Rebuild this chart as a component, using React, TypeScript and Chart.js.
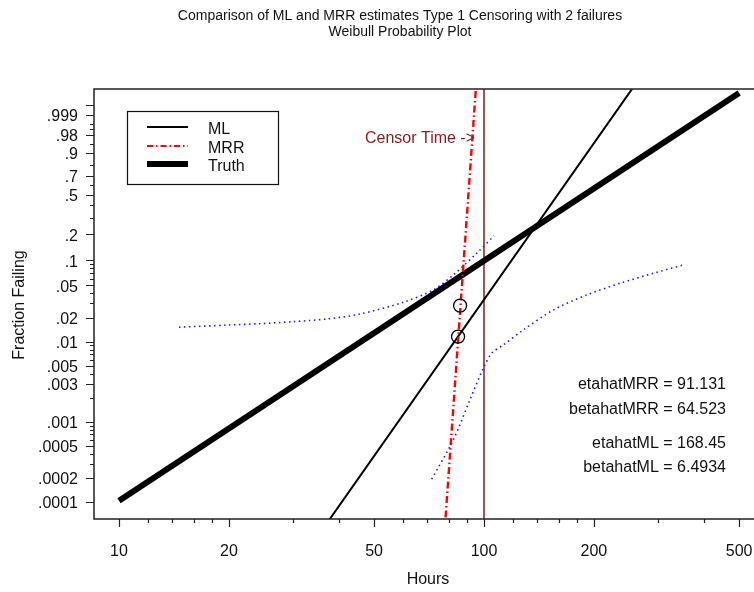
import React, { useEffect, useRef } from 'react';
import { Chart, registerables } from 'chart.js';

Chart.register(...registerables);

// Weibull fits (eta = scale, beta = shape)
const etaML = 168.45;
const betaML = 6.4934;
const etaMRR = 91.131;
const betaMRR = 64.523;
const etaTruth = 213;
const betaTruth = 3;
const censorTime = 100;

// hour spans over which each fitted line is drawn (clipped to the plot)
const mlSpan = [30, 300];
const mrrSpan = [75, 97];
const truthSpan = [10, 500];

// observed failures (hours, median-rank fraction failing)
const failureHours = [84.9, 86.0];
const failureFraction = [0.0116, 0.0281];

// pointwise confidence bounds
const upperBandHours = [14.6, 19.7, 24.3, 30.0, 37.1, 45.5, 60.1, 72.6, 82.4, 96.5, 106.5];
const upperBandFraction = [0.0152, 0.0161, 0.0168, 0.0178, 0.0192, 0.022, 0.0309, 0.0438, 0.0665, 0.126, 0.192];
const lowerBandHours = [71.9, 82.4, 91.5, 99.6, 105.0, 113.0, 128.2, 154.9, 191.2, 235.9, 290.9, 351.6];
const lowerBandFraction = [0.000193, 0.000597, 0.00189, 0.0047, 0.00723, 0.00916, 0.01406, 0.02483, 0.03798, 0.05284, 0.0697, 0.0877];

// axes
const hourMin = 8.541;
const hourMax = 549.2;
const hourTicks = [10, 20, 50, 100, 200, 500];
const hourMinorTicks = [12, 14, 16, 18, 30, 40, 60, 70, 80, 90, 120, 140, 160, 180, 300, 400];
const fractionTicks = [0.0001, 0.0002, 0.0005, 0.001, 0.003, 0.005, 0.01, 0.02, 0.05, 0.1, 0.2, 0.5, 0.7, 0.9, 0.98, 0.999];
const fractionTickLabels = ['.0001', '.0002', '.0005', '.001', '.003', '.005', '.01', '.02', '.05', '.1', '.2', '.5', '.7', '.9', '.98', '.999'];
const fractionMinorTicks = [
  0.0003, 0.0004, 0.0006, 0.0007, 0.0008, 0.0009,
  0.002, 0.004, 0.006, 0.007, 0.008, 0.009,
  0.03, 0.04, 0.06, 0.07, 0.08, 0.09,
  0.3, 0.4, 0.6, 0.8, 0.95, 0.99, 0.995,
];
const fractionExtraMajor = [0.9999];
const weibullMin = -9.7;
const weibullMax = 2.677;

// text
const titleLines = ['Comparison of ML and MRR estimates Type 1 Censoring with 2 failures', 'Weibull Probability Plot'];
const xTitle = 'Hours';
const yTitle = 'Fraction Failing';
const censorLabel = 'Censor Time ->';
const censorLabelAt = { hours: 94.5, fraction: 0.97 };
const statLines = [
  'etahatMRR = ' + etaMRR,
  'betahatMRR = ' + betaMRR,
  'etahatML = ' + etaML,
  'betahatML = ' + betaML,
];
const legendItems = ['ML', 'MRR', 'Truth'];

const FONT = '"Liberation Sans", Arial, Helvetica, sans-serif';
const CENSOR_COLOR = '#8b1a1a';

const weibullY = (f: number) => Math.log(-Math.log1p(-f));
const lineFrom = (eta: number, beta: number, span: number[]) =>
  span.map((t) => ({ x: t, y: beta * (Math.log(t) - Math.log(eta)) }));
const pairs = (xs: number[], fs: number[]) => xs.map((x, i) => ({ x, y: weibullY(fs[i]) }));

const decorations = {
  id: 'decorations',
  afterDatasetsDraw(chart: any) {
    const { ctx, chartArea: a, scales } = chart;
    const xs = scales.x;
    const ys = scales.y;
    ctx.save();

    // frame: left, top and bottom edges
    ctx.strokeStyle = '#222';
    ctx.lineWidth = 1.5;
    ctx.beginPath();
    ctx.moveTo(chart.width, a.top);
    ctx.lineTo(a.left, a.top);
    ctx.lineTo(a.left, a.bottom);
    ctx.lineTo(chart.width, a.bottom);
    ctx.stroke();

    // x ticks
    ctx.lineWidth = 1.2;
    ctx.beginPath();
    hourTicks.forEach((t) => {
      const px = Math.round(xs.getPixelForValue(t)) + 0.5;
      ctx.moveTo(px, a.bottom);
      ctx.lineTo(px, a.bottom + 8);
    });
    hourMinorTicks.forEach((t) => {
      const px = Math.round(xs.getPixelForValue(t)) + 0.5;
      ctx.moveTo(px, a.bottom);
      ctx.lineTo(px, a.bottom + 4);
    });
    // y ticks
    [...fractionTicks, ...fractionExtraMajor].forEach((f) => {
      const py = Math.round(ys.getPixelForValue(weibullY(f))) + 0.5;
      ctx.moveTo(a.left, py);
      ctx.lineTo(a.left - 8, py);
    });
    fractionMinorTicks.forEach((f) => {
      const py = Math.round(ys.getPixelForValue(weibullY(f))) + 0.5;
      ctx.moveTo(a.left, py);
      ctx.lineTo(a.left - 4, py);
    });
    ctx.stroke();

    ctx.fillStyle = '#111';
    ctx.font = '16px ' + FONT;
    ctx.textBaseline = 'middle';
    ctx.textAlign = 'center';
    hourTicks.forEach((t) => {
      ctx.fillText(String(t), xs.getPixelForValue(t), a.bottom + 33);
    });
    ctx.textAlign = 'right';
    fractionTicks.forEach((f, i) => {
      ctx.fillText(fractionTickLabels[i], a.left - 16, ys.getPixelForValue(weibullY(f)) + 2);
    });

    // axis titles
    ctx.textAlign = 'center';
    ctx.font = '16px ' + FONT;
    ctx.fillText(xTitle, 428, 580);
    ctx.save();
    ctx.translate(20, 305);
    ctx.rotate(-Math.PI / 2);
    ctx.fillText(yTitle, 0, 0);
    ctx.restore();

    // chart title
    ctx.font = '14px ' + FONT;
    ctx.fillText(titleLines[0], 400, 16);
    ctx.fillText(titleLines[1], 400, 32);

    // censor annotation
    ctx.fillStyle = CENSOR_COLOR;
    ctx.font = '16px ' + FONT;
    ctx.textAlign = 'right';
    ctx.fillText(censorLabel, xs.getPixelForValue(censorLabelAt.hours), ys.getPixelForValue(weibullY(censorLabelAt.fraction)));

    // estimates
    ctx.fillStyle = '#111';
    const statY = [385, 410, 444, 468];
    statLines.forEach((s, i) => ctx.fillText(s, 726, statY[i]));

    // legend
    const lx = 127, ly = 111, lw = 151, lh = 73;
    ctx.fillStyle = '#fff';
    ctx.fillRect(lx, ly, lw, lh);
    ctx.strokeStyle = '#111';
    ctx.lineWidth = 1.2;
    ctx.strokeRect(lx + 0.5, ly + 0.5, lw, lh);
    const rows = [127, 146, 164];
    const styles = [
      { color: '#000', width: 1.8, dash: [] as number[] },
      { color: '#ff0000', width: 1.8, dash: [6, 3, 1.5, 3] },
      { color: '#000', width: 6, dash: [] as number[] },
    ];
    rows.forEach((ry, i) => {
      ctx.strokeStyle = styles[i].color;
      ctx.lineWidth = styles[i].width;
      ctx.setLineDash(styles[i].dash);
      ctx.beginPath();
      ctx.moveTo(147, ry);
      ctx.lineTo(188, ry);
      ctx.stroke();
    });
    ctx.setLineDash([]);
    ctx.fillStyle = '#111';
    ctx.textAlign = 'left';
    legendItems.forEach((s, i) => ctx.fillText(s, 208, rows[i] + 3));

    ctx.restore();
  },
};

export default function App() {
  const ref = useRef<HTMLCanvasElement>(null);

  useEffect(() => {
    document.body.style.margin = '0';
    const canvas = ref.current;
    if (!canvas) return;
    const chart = new Chart(canvas, {
      type: 'scatter',
      data: {
        datasets: [
          {
            label: 'failures',
            data: pairs(failureHours, failureFraction),
            showLine: false,
            pointStyle: 'circle',
            pointRadius: 6.5,
            pointBorderWidth: 1.3,
            pointBorderColor: '#000',
            pointBackgroundColor: 'rgba(0,0,0,0)',
            order: 0,
          },
          {
            label: 'MRR',
            data: lineFrom(etaMRR, betaMRR, mrrSpan),
            showLine: true,
            borderColor: '#ff0000',
            borderWidth: 2.4,
            borderDash: [7, 3, 1.5, 3],
            pointRadius: 0,
            clip: 0,
            order: 1,
          },
          {
            label: 'ML',
            data: lineFrom(etaML, betaML, mlSpan),
            showLine: true,
            borderColor: '#000',
            borderWidth: 2,
            pointRadius: 0,
            clip: 0,
            order: 2,
          },
          {
            label: 'Truth',
            data: lineFrom(etaTruth, betaTruth, truthSpan),
            showLine: true,
            borderColor: '#000',
            borderWidth: 6,
            pointRadius: 0,
            clip: 0,
            order: 3,
          },
          {
            label: 'censor',
            data: [
              { x: censorTime, y: weibullMin },
              { x: censorTime, y: weibullMax },
            ],
            showLine: true,
            borderColor: CENSOR_COLOR,
            borderWidth: 1.5,
            pointRadius: 0,
            clip: 0,
            order: 4,
          },
          {
            label: 'upper',
            data: pairs(upperBandHours, upperBandFraction),
            showLine: true,
            borderColor: '#1a1aff',
            borderWidth: 1.6,
            borderDash: [1.5, 3.5],
            pointRadius: 0,
            tension: 0.3,
            order: 5,
          },
          {
            label: 'lower',
            data: pairs(lowerBandHours, lowerBandFraction),
            showLine: true,
            borderColor: '#1a1aff',
            borderWidth: 1.6,
            borderDash: [1.5, 3.5],
            pointRadius: 0,
            tension: 0.3,
            order: 5,
          },
        ],
      },
      options: {
        responsive: false,
        animation: false,
        layout: { autoPadding: false, padding: { left: 94, top: 89, right: 0, bottom: 73 } },
        plugins: { legend: { display: false }, title: { display: false }, tooltip: { enabled: false } },
        events: [],
        scales: {
          x: { type: 'logarithmic', min: hourMin, max: hourMax, bounds: 'data', display: false },
          y: { type: 'linear', min: weibullMin, max: weibullMax, bounds: 'data', display: false },
        },
      },
      plugins: [decorations],
    } as any);
    return () => chart.destroy();
  }, []);

  return (
    <div style={{ width: 754, height: 592, background: '#fff' }}>
      <canvas ref={ref} width={754} height={592} style={{ display: 'block' }} />
    </div>
  );
}
